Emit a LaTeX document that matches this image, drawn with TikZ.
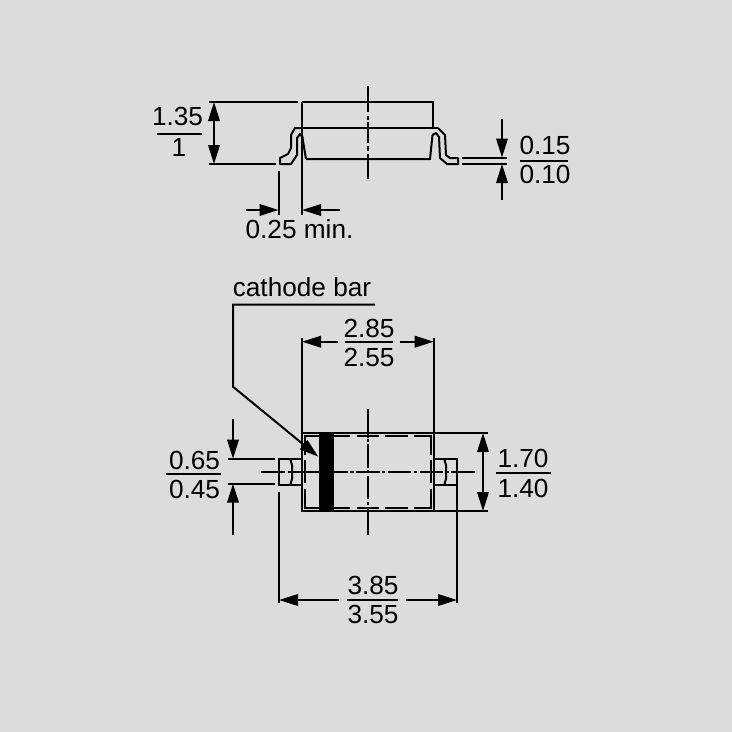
\documentclass[tikz,border=0pt]{standalone}
\usepackage{fontspec}
\setmainfont{Liberation Sans}[FakeBold=-0.25]
\usetikzlibrary{arrows.meta}
\definecolor{paper}{RGB}{220,220,220}
\tikzset{
  ln/.style={line width=2pt,black},
  tip/.style={-{Triangle[length=19pt,width=11.5pt]}},
  lab/.style={inner sep=0pt,anchor=base,font=\fontsize{26.2}{26.2}\selectfont,text=black}
}
\begin{document}
\begin{tikzpicture}[x=1pt,y=-1pt]
\useasboundingbox (0,0) rectangle (732,732);
\fill[paper] (0,0) rectangle (732,732);
% ---- side view ----
\draw[ln] (209,102) -- (298,102);
\draw[ln] (302,102) -- (433,102) -- (433,128);
\draw[ln] (302,102) -- (302,215);
\draw[ln] (209,164) -- (276,164);
\draw[ln] (301,128) -- (438,128);
\draw[ln] (306,159) -- (430,159) -- (432.5,135);
\draw[ln] (302,135) -- (306,159);
\draw[ln,line join=round] (302,128) -- (295,128) -- (291,135) -- (291,148) -- (288,154) -- (280,158) -- (280,164) -- (291,164) -- (297,155) -- (297,138) -- (300,134) -- (303,138);
\draw[ln,line join=round] (438,128) -- (445,135) -- (446,155) -- (450,158) -- (458,158) -- (458,164) -- (447,164) -- (440,158) -- (439,137) -- (436,133) -- (432.5,135);
\draw[ln] (368,86) -- (368,112.3) (368,115.7) -- (368,120) (368,122.3) -- (368,143.3) (368,146) -- (368,151) (368,154) -- (368,179.3);
\draw[ln] (462,157.5) -- (507,157.5) (462,164) -- (507,164);
\draw[ln,tip] (502,119) -- (502,157.5);
\draw[ln,tip] (502,200) -- (502,164);
\draw[ln,tip] (214,133) -- (214,102);
\draw[ln,tip] (214,133) -- (214,164);
\draw[ln] (278.5,171) -- (278.5,215);
\draw[ln,tip] (246,210) -- (278.5,210);
\draw[ln,tip] (340,210) -- (302,210);
\node[lab] (lA) at (177.5,125) {1.35};
\node[lab] (lB) at (179,156) {1};
\draw[ln] (157,134) -- (202,134);
\node[lab] (lC) at (545,154) {0.15};
\node[lab] (lD) at (545,183) {0.10};
\draw[ln] (520,160.5) -- (568,160.5);
\node[lab] (lE) at (299.5,238) {0.25 min.};
% ---- top view ----
\node[lab] (lF) at (302,296) {cathode bar};
\draw[ln,tip] (375,304.7) -- (233,304.7) -- (233,386.7) -- (318.3,456.7);
\draw[ln] (302,338) -- (302,512);
\draw[ln] (433.7,338) -- (433.7,512);
\draw[ln] (301,433) -- (488,433);
\draw[ln] (301,511.3) -- (488,511.3);
\fill[black] (319.3,432.3) rectangle (334,512.3);
\draw[ln] (304.7,455) -- (304.7,435.7) -- (319,435.7) (304.7,460) -- (304.7,482.7) (304.7,489.3) -- (304.7,507.7) -- (319,507.7);
\draw[ln] (334,435.7) -- (350,435.7) (356.7,435.7) -- (379,435.7) (385,435.7) -- (408.3,435.7) (414,435.7) -- (431,435.7) -- (431,455) (431,460) -- (431,483.3) (431,489) -- (431,507.7) -- (414,507.7) (408.3,507.7) -- (385,507.7) (379,507.7) -- (356.7,507.7) (350,507.7) -- (334,507.7);
\draw[ln] (261,471.7) -- (285,471.7) (287.5,471.7) -- (319,471.7) (334,471.7) -- (348,471.7) (350.3,471.7) -- (354,471.7) (356,471.7) -- (380,471.7) (382.3,471.7) -- (385,471.7) (388.3,471.7) -- (410.7,471.7) (414,471.7) -- (417.3,471.7) (420,471.7) -- (443,471.7) (447.3,471.7) -- (449,471.7) (451,471.7) -- (475,471.7);
\draw[ln] (367.7,409) -- (367.7,437.7) (367.7,439.3) -- (367.7,441.7) (367.7,443.7) -- (367.7,468.3) (367.7,470) -- (367.7,473.3) (367.7,475.7) -- (367.7,499) (367.7,501.7) -- (367.7,505) (367.7,509) -- (367.7,535);
\draw[ln] (279,459) rectangle (302,485);
\draw[ln] (434,459) rectangle (457.3,485);
\draw[ln] (290.5,460) -- (292,465) -- (292,479) -- (290.5,484);
\draw[ln] (444.5,460) -- (446,465) -- (446,479) -- (444.5,484);
\draw[ln] (228,458.7) -- (275,458.7) (228,483.7) -- (275,483.7);
\draw[ln,tip] (233,419) -- (233,458.7);
\draw[ln,tip] (233,535) -- (233,483.7);
\node[lab] (lG) at (194.5,469) {0.65};
\node[lab] (lH) at (194.5,498) {0.45};
\draw[ln] (166,473.7) -- (221,473.7);
\draw[ln,tip] (338,341.7) -- (302,341.7);
\draw[ln,tip] (400,341.7) -- (433.7,341.7);
\draw[ln] (345,341.7) -- (393,341.7);
\node[lab] (lI) at (369,337) {2.85};
\node[lab] (lJ) at (369,366) {2.55};
\draw[ln,tip] (483,472) -- (483,433);
\draw[ln,tip] (483,472) -- (483,511);
\draw[ln] (496,472.7) -- (551,472.7);
\node[lab] (lK) at (523,467) {1.70};
\node[lab] (lL) at (523,497) {1.40};
\draw[ln] (279,492) -- (279,602.5);
\draw[ln] (457.3,485) -- (457.3,602.5);
\draw[ln,tip] (339,600) -- (279,600);
\draw[ln,tip] (406,600) -- (457,600);
\draw[ln] (347,600) -- (398,600);
\node[lab] (lM) at (373,594) {3.85};
\node[lab] (lN) at (373,623.5) {3.55};
\end{tikzpicture}
\end{document}
